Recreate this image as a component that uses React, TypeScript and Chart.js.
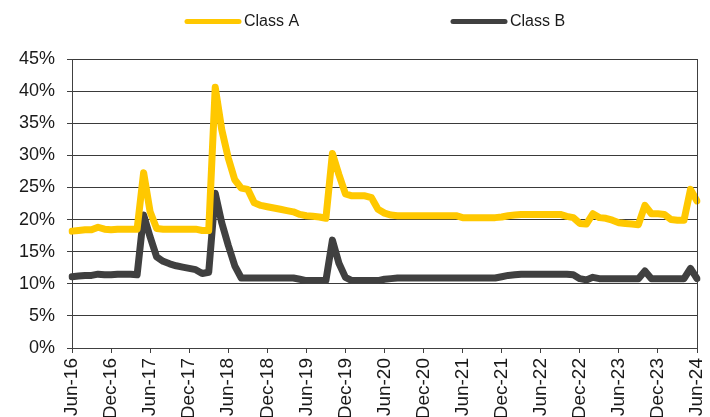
import React, { useEffect, useRef } from "react";
import { Chart, registerables } from "chart.js";

Chart.register(...registerables);

const monthNames = ["Jan", "Feb", "Mar", "Apr", "May", "Jun", "Jul", "Aug", "Sep", "Oct", "Nov", "Dec"];
const startMonth = 5; // Jun
const startYear = 16;
const monthCount = 97;

const tickLabels = [
  "Jun-16", "Dec-16", "Jun-17", "Dec-17", "Jun-18", "Dec-18", "Jun-19", "Dec-19", "Jun-20",
  "Dec-20", "Jun-21", "Dec-21", "Jun-22", "Dec-22", "Jun-23", "Dec-23", "Jun-24",
];

const categories: string[] = [];
for (let i = 0; i < monthCount; i++) {
  const m = (startMonth + i) % 12;
  const y = startYear + Math.floor((startMonth + i) / 12);
  categories.push(`${monthNames[m]}-${y}`);
}

const classA = [
  18.2, 18.3, 18.4, 18.4, 18.8, 18.5, 18.4, 18.5, 18.5, 18.5,
  18.5, 27.3, 21.2, 18.6, 18.5, 18.5, 18.5, 18.5, 18.5, 18.5,
  18.3, 18.3, 40.6, 34.0, 29.6, 26.2, 24.9, 24.7, 22.6, 22.2,
  22.0, 21.8, 21.6, 21.4, 21.2, 20.8, 20.6, 20.5, 20.4, 20.2,
  30.3, 27.0, 24.0, 23.7, 23.7, 23.7, 23.4, 21.6, 21.0, 20.7,
  20.6, 20.6, 20.6, 20.6, 20.6, 20.6, 20.6, 20.6, 20.6, 20.6,
  20.3, 20.3, 20.3, 20.3, 20.3, 20.3, 20.4, 20.6, 20.7, 20.8,
  20.8, 20.8, 20.8, 20.8, 20.8, 20.8, 20.5, 20.3, 19.4, 19.3,
  20.9, 20.3, 20.2, 19.9, 19.5, 19.4, 19.3, 19.2, 22.2, 20.9,
  20.9, 20.8, 20.0, 19.9, 19.9, 24.7, 22.9,
];

const classB = [
  11.1, 11.2, 11.3, 11.3, 11.5, 11.4, 11.4, 11.5, 11.5, 11.5,
  11.4, 20.7, 17.3, 14.2, 13.5, 13.1, 12.8, 12.6, 12.4, 12.2,
  11.6, 11.8, 24.1, 19.5, 16.0, 12.8, 10.9, 10.9, 10.9, 10.9,
  10.9, 10.9, 10.9, 10.9, 10.9, 10.7, 10.5, 10.5, 10.5, 10.5,
  16.8, 13.2, 11.0, 10.5, 10.5, 10.5, 10.5, 10.5, 10.7, 10.8,
  10.9, 10.9, 10.9, 10.9, 10.9, 10.9, 10.9, 10.9, 10.9, 10.9,
  10.9, 10.9, 10.9, 10.9, 10.9, 10.9, 11.1, 11.3, 11.4, 11.5,
  11.5, 11.5, 11.5, 11.5, 11.5, 11.5, 11.5, 11.4, 10.8, 10.6,
  11.0, 10.8, 10.8, 10.8, 10.8, 10.8, 10.8, 10.8, 12.0, 10.8,
  10.8, 10.8, 10.8, 10.8, 10.8, 12.4, 10.8,
];

const seriesNames = ["Class A", "Class B"];
const seriesColors = ["#FFC800", "#404040"];

const FONT = "'Liberation Sans', Arial, sans-serif";
const TEXT = "#1a1a1a";

const legendPlugin = {
  id: "customLegend",
  afterDraw(chart: any) {
    const ctx = chart.ctx;
    const items = [
      { x: 187, name: seriesNames[0], color: seriesColors[0] },
      { x: 453, name: seriesNames[1], color: seriesColors[1] },
    ];
    ctx.save();
    for (const it of items) {
      ctx.strokeStyle = it.color;
      ctx.lineWidth = 5;
      ctx.lineCap = "round";
      ctx.beginPath();
      ctx.moveTo(it.x, 21.5);
      ctx.lineTo(it.x + 52, 21.5);
      ctx.stroke();
      ctx.fillStyle = TEXT;
      ctx.font = `16px ${FONT}`;
      ctx.textBaseline = "middle";
      ctx.textAlign = "left";
      ctx.fillText(it.name, it.x + 57, 22);
    }
    // right border of plot area
    const a = chart.chartArea;
    ctx.strokeStyle = "#404040";
    ctx.lineWidth = 1;
    ctx.lineCap = "butt";
    ctx.beginPath();
    ctx.moveTo(Math.round(a.right) + 0.5, a.top);
    ctx.lineTo(Math.round(a.right) + 0.5, a.bottom);
    ctx.stroke();
    ctx.restore();
  },
};

export default function App() {
  const ref = useRef<HTMLCanvasElement | null>(null);

  useEffect(() => {
    if (!ref.current) return;
    const chart = new Chart(ref.current, {
      type: "line",
      data: {
        labels: categories,
        datasets: [
          {
            label: seriesNames[0],
            data: classA,
            borderColor: seriesColors[0],
            backgroundColor: seriesColors[0],
            borderWidth: 7,
            pointRadius: 0,
            tension: 0,
            borderJoinStyle: "round",
            borderCapStyle: "round",
          },
          {
            label: seriesNames[1],
            data: classB,
            borderColor: seriesColors[1],
            backgroundColor: seriesColors[1],
            borderWidth: 7,
            pointRadius: 0,
            tension: 0,
            borderJoinStyle: "round",
            borderCapStyle: "round",
          },
        ],
      },
      options: {
        responsive: false,
        animation: false,
        layout: { padding: { top: 59, right: 13, left: 0, bottom: 0 } },
        plugins: {
          legend: { display: false },
          tooltip: { enabled: false },
        },
        scales: {
          x: {
            type: "category",
            offset: false,
            afterFit: (scale: any) => {
              scale.height = 69;
              scale.paddingLeft = 0;
              scale.paddingRight = 0;
            },
            grid: {
              drawOnChartArea: false,
              drawTicks: true,
              tickLength: 5,
              tickColor: (c: any) => (c.index % 6 === 0 ? "#404040" : "rgba(0,0,0,0)"),
            },
            border: { display: true, color: "#404040", width: 1 },
            ticks: {
              autoSkip: false,
              maxRotation: 90,
              minRotation: 90,
              padding: 5,
              color: TEXT,
              font: { family: FONT, size: 19 },
              callback: (_v: any, i: number) => (i % 6 === 0 ? tickLabels[i / 6] : ""),
            },
          },
          y: {
            min: 0,
            max: 45,
            afterFit: (scale: any) => {
              scale.width = 72;
            },
            grid: {
              color: "#3a3a3a",
              lineWidth: 1,
              drawTicks: true,
              tickLength: 5,
              tickColor: "#404040",
            },
            border: { display: true, color: "#404040", width: 1 },
            ticks: {
              stepSize: 5,
              padding: 12,
              color: TEXT,
              font: { family: FONT, size: 18 },
              callback: (v: any) => `${v}%`,
            },
          },
        },
      },
      plugins: [legendPlugin],
    });
    return () => chart.destroy();
  }, []);

  return (
    <div style={{ position: "fixed", left: 0, top: 0, width: 710, height: 417, background: "#fff" }}>
      <canvas ref={ref} width={710} height={417} style={{ display: "block" }} />
    </div>
  );
}
